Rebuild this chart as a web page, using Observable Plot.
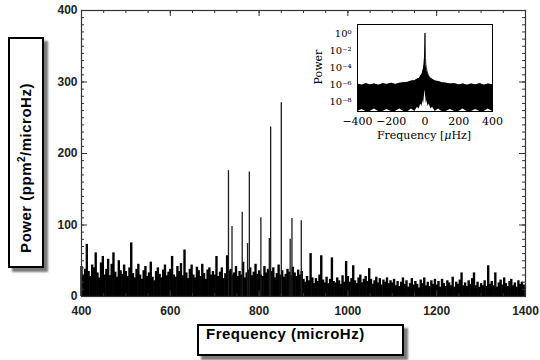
<!DOCTYPE html>
<html>
<head>
<meta charset="utf-8">
<script src="https://cdn.jsdelivr.net/npm/d3@7"></script>
<script src="https://cdn.jsdelivr.net/npm/@observablehq/plot@0.6"></script>
<style>
  html, body { margin: 0; padding: 0; background: #fff; }
  #wrap { position: relative; width: 540px; height: 360px; overflow: hidden; }
  #wrap svg { position: absolute; }
  .box { position: absolute; border: 2.5px solid #000; background: #fff; box-shadow: 4px 4px 2px #7a7a7a; box-sizing: border-box; }
  .lbl { position: absolute; font-family: "Liberation Sans", Arial, sans-serif; font-weight: bold; font-size: 15px; letter-spacing: 0.5px; color: #000; white-space: nowrap; }
  .ilbl { position: absolute; font-family: "DejaVu Serif", serif; font-size: 11px; color: #000; white-space: nowrap; }
</style>
</head>
<body>
<div id="wrap"></div>
<script>
// ---------- main spectrum data ----------
const noiseStart = 400;   // microHz, first bin
const noiseStep = 4;      // microHz per bin
const noisePower = [
  42, 30, 38, 73, 35, 28, 44, 40, 61, 33, 26, 47, 56, 30, 38, 52, 29, 45, 61, 34, 27, 50, 36, 31, 44,
  35, 28, 40, 75, 32, 26, 38, 45, 30, 24, 36, 42, 28, 33, 48, 27, 22, 35, 40, 31, 26, 37, 44, 29, 34,
  38, 56, 30, 27, 42, 35, 46, 29, 65, 33, 25, 38, 44, 30, 26, 41, 36, 28, 45, 32, 24, 37, 40, 30, 35,
  30, 56, 28, 34, 40, 25, 32, 57, 36, 38, 30, 33, 42, 28, 35, 30, 48, 26, 33, 37, 40, 29, 34, 45, 31,
  36, 30, 28, 42, 33, 38, 29, 35, 40, 26, 32, 44, 30, 36, 27, 31, 38, 34, 29, 41, 33, 28, 37, 30, 35,
  24, 20, 28, 22, 60, 26, 18, 25, 21, 30, 57, 23, 19, 27, 18, 24, 54, 21, 19, 26, 22, 17, 29, 20, 49,
  28, 20, 25, 43, 22, 18, 26, 30, 19, 24, 28, 21, 39, 24, 17, 22, 27, 19, 25, 16, 23, 20, 26, 18, 22,
  19, 24, 15, 21, 14, 20, 26, 17, 22, 13, 18, 25, 16, 21, 17, 12, 23, 18, 26, 15, 20, 14, 22, 17, 24,
  16, 21, 13, 24, 18, 14, 22, 19, 15, 27, 13, 20, 17, 23, 33, 15, 19, 14, 22, 17, 25, 33, 15, 20, 13,
  18, 15, 22, 14, 43, 17, 21, 15, 33, 13, 19, 23, 16, 26, 18, 14, 21, 24, 15, 19, 13, 22, 17, 20, 16
];
const modeFreq  = [731, 739, 762, 774, 778, 804, 823, 826, 850, 870, 874, 895];
const modePower = [176,  98, 118,  74, 174, 110,  81, 237, 271,  80, 109, 106];

const xTickLabels = [400, 600, 800, 1000, 1200, 1400];
const yTickLabels = [0, 100, 200, 300, 400];

// ---------- inset (window function, log power) ----------
const insetFreq = [-400,-375,-350,-325,-300,-275,-250,-225,-200,-175,-150,-125,-100,-80,-60,-45,-35,-25,-18,-12,-8,-5,-3,-1,0,1,3,5,8,12,18,25,35,45,60,80,100,125,150,175,200,225,250,275,300,325,350,375,400];
const insetUpperLog = [-5.95,-6.1,-5.9,-6.05,-5.95,-6.1,-5.9,-6.0,-5.85,-6.0,-5.85,-5.8,-5.75,-5.6,-5.55,-5.35,-5.3,-5.0,-4.8,-4.4,-4.0,-3.6,-2.8,-1.2,0.1,-1.2,-2.8,-3.6,-4.0,-4.4,-4.8,-5.05,-5.3,-5.4,-5.6,-5.65,-5.8,-5.85,-5.95,-5.9,-6.05,-5.95,-6.1,-5.95,-6.05,-5.9,-6.1,-5.95,-6.05];
const insetLowerLog = [-9.2,-8.95,-9.2,-9.2,-8.9,-9.2,-9.2,-8.95,-9.2,-9.2,-8.9,-9.2,-9.2,-8.9,-9.2,-8.7,-8.9,-8.3,-8.6,-7.9,-8.3,-7.6,-7.3,-6.8,-6.7,-6.8,-7.3,-7.6,-8.3,-7.9,-8.6,-8.3,-8.9,-8.7,-9.2,-8.9,-9.2,-9.2,-8.95,-9.2,-9.2,-8.9,-9.2,-9.2,-8.95,-9.2,-9.2,-8.9,-9.2];
const insetXTicks = [-400, -200, 0, 200, 400];
const insetYTicks = [1, 1e-2, 1e-4, 1e-6, 1e-8];
const insetYLabels = ["10⁰", "10⁻²", "10⁻⁴", "10⁻⁶", "10⁻⁸"];

// ---------- build tables ----------
const noiseData = noisePower.map((p, i) => ({f: noiseStart + i * noiseStep, p}));
const modeData = modeFreq.map((f, i) => ({f, p: modePower[i]}));
const insetData = insetFreq.map((f, i) => ({f, lo: Math.pow(10, insetLowerLog[i]), hi: Math.pow(10, insetUpperLog[i])}));
const xMinor = d3.range(400, 1401, 50);
const yMinor = d3.range(0, 401, 10);

const W = 540, H = 360, mL = 81, mR = 15, mT = 10, mB = 64;
const innerW = W - mL - mR, innerH = H - mT - mB;

const main = Plot.plot({
  width: W, height: H,
  marginLeft: mL, marginRight: mR, marginTop: mT, marginBottom: mB,
  x: {domain: [400, 1400]},
  y: {domain: [0, 400]},
  style: {fontFamily: "Liberation Sans, Arial, sans-serif", fontSize: "12px", background: "transparent", overflow: "visible"},
  marks: [
    Plot.ruleX(noiseData, {x: "f", y1: 0, y2: "p", stroke: "#000", strokeWidth: 2.4}),
    Plot.ruleX(modeData, {x: "f", y1: 0, y2: "p", stroke: "#1c1c1c", strokeWidth: 1.3}),
    // inward ticks on all four sides
    Plot.tickX(xMinor, {x: d => d, insetTop: innerH - 3, stroke: "#333"}),
    Plot.tickX(xTickLabels, {x: d => d, insetTop: innerH - 6, stroke: "#333"}),
    Plot.tickX(xMinor, {x: d => d, insetBottom: innerH - 3, stroke: "#333"}),
    Plot.tickX(xTickLabels, {x: d => d, insetBottom: innerH - 6, stroke: "#333"}),
    Plot.tickY(yMinor, {y: d => d, insetRight: innerW - 3, stroke: "#333"}),
    Plot.tickY(yTickLabels, {y: d => d, insetRight: innerW - 6, stroke: "#333"}),
    Plot.tickY(yMinor, {y: d => d, insetLeft: innerW - 3, stroke: "#333"}),
    Plot.tickY(yTickLabels, {y: d => d, insetLeft: innerW - 6, stroke: "#333"}),
    Plot.frame({stroke: "#333", strokeWidth: 1.2}),
    Plot.axisX({ticks: xTickLabels, tickFormat: d => String(d), tickSize: 0, tickPadding: 10, fontWeight: "bold", fill: "#222", label: null}),
    Plot.axisY({ticks: yTickLabels, tickFormat: d => String(d), tickSize: 0, tickPadding: 4, fontWeight: "bold", fill: "#222", label: null})
  ]
});
main.style.left = "0px"; main.style.top = "0px";

const iL = 300, iT = 15, iW = 200, iH = 130;
const inset = Plot.plot({
  width: iW, height: iH,
  marginLeft: 57, marginRight: 8, marginTop: 9, marginBottom: 34,
  x: {domain: [-400, 400]},
  y: {type: "log", domain: [Math.pow(10, -9.2), Math.pow(10, 1.1)]},
  style: {fontFamily: "DejaVu Serif, serif", fontSize: "11px", background: "transparent", overflow: "visible"},
  marks: [
    Plot.areaY(insetData, {x: "f", y1: "lo", y2: "hi", fill: "#000"}),
    Plot.lineY(insetData, {x: "f", y: "hi", stroke: "#000", strokeWidth: 0.8}),
    Plot.frame({stroke: "#000", strokeWidth: 1}),
    Plot.axisX({ticks: insetXTicks, tickSize: 0, tickPadding: 6, fill: "#000", label: null}),
    Plot.axisY({ticks: insetYTicks, tickFormat: d => insetYLabels[insetYTicks.indexOf(d)], tickSize: 0, tickPadding: 6, fill: "#000", fontSize: 10, label: null})
  ]
});
inset.style.left = iL + "px"; inset.style.top = iT + "px";

const wrap = document.getElementById("wrap");
wrap.appendChild(main);
wrap.appendChild(inset);

function addEl(cls, css, html) {
  const d = document.createElement("div");
  d.className = cls;
  Object.assign(d.style, css);
  if (html) d.innerHTML = html;
  wrap.appendChild(d);
  return d;
}
// y-axis title box
addEl("box", {left: "8px", top: "37px", width: "36px", height: "231px"});
addEl("lbl", {left: "25px", top: "168px", transform: "translate(-50%, -50%) rotate(-90deg)"}, "Power (ppm<sup style=\"font-size:10px\">2</sup>/microHz)");
// x-axis title box
addEl("box", {left: "197px", top: "324px", width: "207px", height: "32px"});
addEl("lbl", {left: "206px", top: "325px", fontSize: "15px"}, "Frequency (microHz)");
// inset titles
addEl("ilbl", {left: "318px", top: "67px", transform: "translate(-50%, -50%) rotate(-90deg)"}, "Power");
addEl("ilbl", {left: "424px", top: "135px", transform: "translate(-50%, -50%)"}, "Frequency [<i>μ</i>Hz]");
</script>
</body>
</html>
